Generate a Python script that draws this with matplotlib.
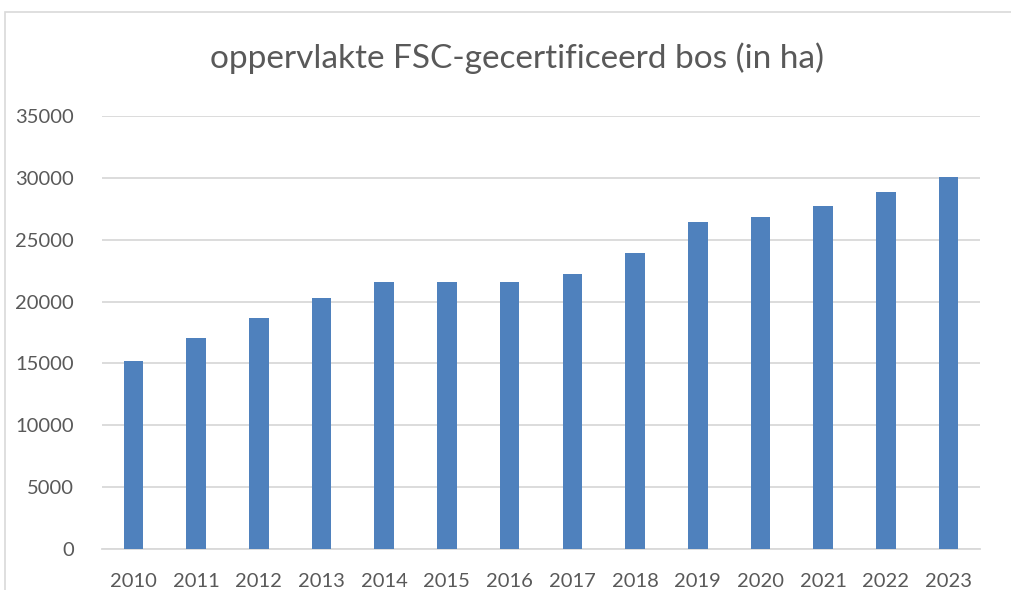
import matplotlib.pyplot as plt
from matplotlib.patches import Rectangle

# data
jaren = ['2010', '2011', '2012', '2013', '2014', '2015', '2016',
         '2017', '2018', '2019', '2020', '2021', '2022', '2023']
oppervlakte = [15200, 17050, 18650, 20270, 21570, 21570, 21570,
               22210, 23900, 26450, 26800, 27750, 28870, 30080]
y_ticks = [0, 5000, 10000, 15000, 20000, 25000, 30000, 35000]

plt.rcParams['font.family'] = ['Lato', 'DejaVu Sans']

W, H = 1012, 590
fig = plt.figure(figsize=(W / 100, H / 100), dpi=100)

# chart border (light grey frame as in the office export)
fig.patches.append(Rectangle((5 / W, -0.1), 1.2, (H - 12) / H + 0.1,
                             transform=fig.transFigure, fill=False,
                             edgecolor='#D9D9D9', linewidth=1.2))

ax = fig.add_axes([102 / W, 40.7 / H, 878 / W, 433.6 / H])
x = range(len(jaren))
ax.bar(x, oppervlakte, width=0.31, color='#4F81BD', zorder=3)

ax.set_xlim(-0.5, len(jaren) - 0.5)
ax.set_ylim(0, 35000)
ax.set_yticks(y_ticks)
ax.set_yticklabels([str(v) for v in y_ticks])
ax.set_xticks(list(x))
ax.set_xticklabels(jaren)
ax.grid(axis='y', color='#D9D9D9', linewidth=1.3, zorder=0)
for s in ['top', 'right', 'left']:
    ax.spines[s].set_visible(False)
ax.spines['bottom'].set_color('#D9D9D9')
ax.spines['bottom'].set_linewidth(1.3)
ax.tick_params(axis='both', length=0, labelsize=14.5, colors='#595959')
ax.tick_params(axis='y', pad=20)
ax.tick_params(axis='x', pad=17)

fig.text(517 / W, 1 - 58 / H, 'oppervlakte FSC-gecertificeerd bos (in ha)',
         ha='center', va='center', fontsize=24, color='#595959')

fig.savefig('out.png', dpi=100)
